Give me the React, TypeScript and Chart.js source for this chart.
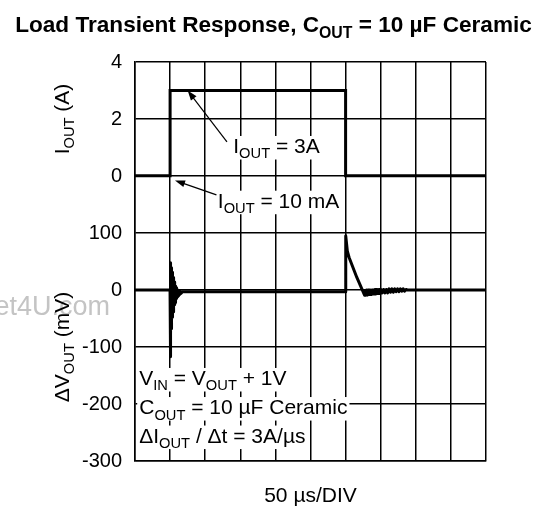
import React, { useEffect, useRef } from "react";
import { Chart, registerables } from "chart.js";

Chart.register(...registerables);

const FONT = "'Liberation Sans', Arial, Helvetica, sans-serif";

// time axis: 50 µs per division, 10 divisions
const X_MIN = 0;
const X_MAX = 500;
const X_STEP = 50;

// ΔV_OUT axis (mV); the current panel shares the same grid
const V_MIN = -300;
const V_MAX = 400;
const V_STEP = 100;

// I_OUT axis (A): 0 A sits on the 200 mV line, 2 A per division
const I_MIN = -10;
const I_MAX = 4;

const vTickValues = [400, 300, 200, 100, 0, -100, -200, -300];
const vTickLabels = ["4", "2", "0", "100", "0", "-100", "-200", "-300"];

// load current step (µs, A)
const iTime = [0, 50, 50, 300, 300, 500];
const iAmps = [0.01, 0.01, 3, 3, 0.01, 0.01];

// output voltage deviation (µs, mV)
const vTime = [
  0, 49.9, 50.1, 50.25, 50.4, 50.55, 50.7, 50.85, 51.0, 51.2, 51.4, 51.6, 51.8, 52.0, 52.25, 52.5,
  52.75, 53.0, 53.3, 53.6, 53.9, 54.2, 54.5, 54.8, 55.1, 55.5, 55.9, 56.3, 56.7, 57.1, 57.5, 58.0,
  58.5, 59.0, 59.5, 60.1, 60.7, 61.3, 62.0, 62.7, 63.5, 64.3, 65.2, 66.2, 67.3, 300,
  300.2, 302.5, 305, 316, 327, 328, 329, 330, 331, 332, 333, 334, 335, 336, 337, 338, 339, 340,
  341, 342, 343, 344, 345, 346, 347, 348, 349, 350, 352, 354, 356, 358, 360, 362, 364, 366, 368,
  370, 372, 374, 376, 378, 380, 382, 384, 386, 388, 500,
];
const vMilli = [
  0, 0, 48, -117, 46, -105, 44, -90, 42, -78, 39, -68, 37, -60, 34, -54,
  31, -48, 28, -43, 25, -38, 22, -34, 18, -30, 14, -26, 10, -22, 7, -18,
  4, -15, 2, -12, 0, -10, -1, -8, -2, -6, -3, -5, -3, -3,
  95, 68, 57, 22, -9, -1, -9, 0, -9, 0, -8, 0, -8, 0, -8, 0, -7, 0,
  -7, 1, -7, 1, -6, 1, -6, 1, -6, 1, -5, 1, -5, 1, -5, 2, -4, 2, -4,
  2, -3, 2, -3, 2, -2, 2, -2, 1, 0, 0,
];

type Seg = { t: string; sub?: boolean };

const TITLE: Seg[] = [
  { t: "Load Transient Response, C" },
  { t: "OUT", sub: true },
  { t: " = 10 µF Ceramic" },
];
const Y_TITLE_I: Seg[] = [{ t: "I" }, { t: "OUT", sub: true }, { t: " (A)" }];
const Y_TITLE_V: Seg[] = [{ t: "ΔV" }, { t: "OUT", sub: true }, { t: " (mV)" }];
const X_TITLE: Seg[] = [{ t: "50 µs/DIV" }];

// annotations, positioned in axis units (µs, mV)
const NOTE_3A: Seg[] = [{ t: "I" }, { t: "OUT", sub: true }, { t: " = 3A" }];
const NOTE_10MA: Seg[] = [{ t: "I" }, { t: "OUT", sub: true }, { t: " = 10 mA" }];
const NOTE_L1: Seg[] = [{ t: "V" }, { t: "IN", sub: true }, { t: " = V" }, { t: "OUT", sub: true }, { t: " + 1V" }];
const NOTE_L2: Seg[] = [{ t: "C" }, { t: "OUT", sub: true }, { t: " = 10 µF Ceramic" }];
const NOTE_L3: Seg[] = [{ t: "ΔI" }, { t: "OUT", sub: true }, { t: " / Δt = 3A/µs" }];

const notes: { segs: Seg[]; x: number; y: number }[] = [
  { segs: NOTE_3A, x: 140, y: 240 },
  { segs: NOTE_10MA, x: 118, y: 144 },
  { segs: NOTE_L1, x: 6, y: -167 },
  { segs: NOTE_L2, x: 6, y: -218 },
  { segs: NOTE_L3, x: 6, y: -268 },
];
const arrows: { x0: number; y0: number; x1: number; y1: number }[] = [
  { x0: 131, y0: 260, x1: 75, y1: 350 },
  { x0: 116, y0: 167, x1: 57, y1: 192 },
];

function fontOf(size: number, bold: boolean) {
  return `${bold ? "bold " : ""}${size}px ${FONT}`;
}

function richWidth(ctx: CanvasRenderingContext2D, segs: Seg[], size: number, bold: boolean) {
  let w = 0;
  for (const s of segs) {
    ctx.font = fontOf(s.sub ? size * 0.7 : size, bold);
    w += ctx.measureText(s.t).width;
  }
  return w;
}

function drawRich(
  ctx: CanvasRenderingContext2D,
  segs: Seg[],
  x: number,
  y: number,
  size: number,
  bold: boolean,
  align: "left" | "center",
  bg: boolean
) {
  const w = richWidth(ctx, segs, size, bold);
  let cx = align === "center" ? x - w / 2 : x;
  if (bg) {
    ctx.fillStyle = "#fff";
    ctx.fillRect(cx - 2, y - size * 0.82, w + 4, size * 1.12);
  }
  ctx.fillStyle = "#000";
  ctx.textAlign = "left";
  ctx.textBaseline = "alphabetic";
  for (const s of segs) {
    const sz = s.sub ? size * 0.7 : size;
    ctx.font = fontOf(sz, bold);
    ctx.fillText(s.t, cx, s.sub ? y + size * 0.25 : y);
    cx += ctx.measureText(s.t).width;
  }
}

function drawArrow(ctx: CanvasRenderingContext2D, x0: number, y0: number, x1: number, y1: number) {
  const ang = Math.atan2(y1 - y0, x1 - x0);
  const len = 10;
  const half = 3.5;
  ctx.strokeStyle = "#000";
  ctx.lineWidth = 1.2;
  ctx.beginPath();
  ctx.moveTo(x0, y0);
  ctx.lineTo(x1 - Math.cos(ang) * len * 0.8, y1 - Math.sin(ang) * len * 0.8);
  ctx.stroke();
  ctx.fillStyle = "#000";
  ctx.beginPath();
  ctx.moveTo(x1, y1);
  ctx.lineTo(x1 - Math.cos(ang) * len - Math.sin(ang) * half, y1 - Math.sin(ang) * len + Math.cos(ang) * half);
  ctx.lineTo(x1 - Math.cos(ang) * len + Math.sin(ang) * half, y1 - Math.sin(ang) * len - Math.cos(ang) * half);
  ctx.closePath();
  ctx.fill();
}

const textPlugin = {
  id: "texts",
  beforeDraw(chart: any) {
    const ctx: CanvasRenderingContext2D = chart.ctx;
    ctx.save();
    ctx.fillStyle = "#fff";
    ctx.fillRect(0, 0, chart.width, chart.height);
    ctx.font = `27px ${FONT}`;
    ctx.fillStyle = "#c4c4c4";
    ctx.textAlign = "right";
    ctx.textBaseline = "alphabetic";
    ctx.fillText("et4U.com", 110, 315);
    ctx.restore();
  },
  afterDraw(chart: any) {
    const ctx: CanvasRenderingContext2D = chart.ctx;
    const xs = chart.scales.x;
    const ys = chart.scales.yV;
    const area = chart.chartArea;
    ctx.save();
    drawRich(ctx, TITLE, chart.width / 2, 32, 22.6, true, "center", false);
    drawRich(ctx, X_TITLE, (area.left + area.right) / 2, 502, 21, false, "center", false);

    // rotated axis titles
    const rot = (segs: Seg[], cy: number) => {
      ctx.save();
      ctx.translate(69, cy);
      ctx.rotate(-Math.PI / 2);
      drawRich(ctx, segs, 0, 0, 21, false, "center", false);
      ctx.restore();
    };
    rot(Y_TITLE_I, ys.getPixelForValue(300));
    rot(Y_TITLE_V, ys.getPixelForValue(-100));

    for (const n of notes) {
      drawRich(ctx, n.segs, xs.getPixelForValue(n.x), ys.getPixelForValue(n.y), 21, false, "left", true);
    }
    for (const a of arrows) {
      drawArrow(
        ctx,
        xs.getPixelForValue(a.x0),
        ys.getPixelForValue(a.y0),
        xs.getPixelForValue(a.x1),
        ys.getPixelForValue(a.y1)
      );
    }
    ctx.restore();
  },
};

export default function App() {
  const ref = useRef<HTMLCanvasElement | null>(null);
  useEffect(() => {
    if (!ref.current) return;
    const gridOpts = { color: "#000", lineWidth: 1.5, drawTicks: false };
    const lineStyle = {
      borderColor: "#000",
      borderWidth: 3,
      borderJoinStyle: "round",
      borderCapStyle: "round",
      pointRadius: 0,
      tension: 0,
      fill: false,
    };
    const chart = new Chart(ref.current, {
      type: "line",
      data: {
        datasets: [
          {
            label: "I_OUT",
            data: iTime.map((x, i) => ({ x, y: iAmps[i] })),
            yAxisID: "yI",
            ...lineStyle,
            borderJoinStyle: "miter",
          },
          {
            label: "ΔV_OUT",
            data: vTime.map((x, i) => ({ x, y: vMilli[i] })),
            yAxisID: "yV",
            ...lineStyle,
          },
        ],
      },
      options: {
        responsive: false,
        animation: false,
        devicePixelRatio: 1,
        layout: { padding: { top: 62, right: 61, bottom: 0, left: 0 } },
        plugins: { legend: { display: false }, tooltip: { enabled: false }, title: { display: false } },
        scales: {
          x: {
            type: "linear",
            min: X_MIN,
            max: X_MAX,
            ticks: { stepSize: X_STEP, display: false },
            grid: gridOpts,
            border: { color: "#000", width: 1.5 },
            afterFit: (s: any) => {
              s.height = 58;
            },
          },
          yV: {
            type: "linear",
            position: "left",
            min: V_MIN,
            max: V_MAX,
            ticks: {
              stepSize: V_STEP,
              padding: 13,
              color: "#000",
              font: { family: FONT, size: 20 },
              callback: (v: any) => {
                const i = vTickValues.indexOf(Number(v));
                return i >= 0 ? vTickLabels[i] : "";
              },
            },
            grid: gridOpts,
            border: { color: "#000", width: 1.5 },
            afterFit: (s: any) => {
              s.width = 135;
            },
          },
          yI: { type: "linear", display: false, min: I_MIN, max: I_MAX },
        },
      } as any,
      plugins: [textPlugin],
    });
    return () => chart.destroy();
  }, []);
  return (
    <div style={{ position: "fixed", left: 0, top: 0, width: 547, height: 519 }}>
      <canvas ref={ref} width={547} height={519} />
    </div>
  );
}
